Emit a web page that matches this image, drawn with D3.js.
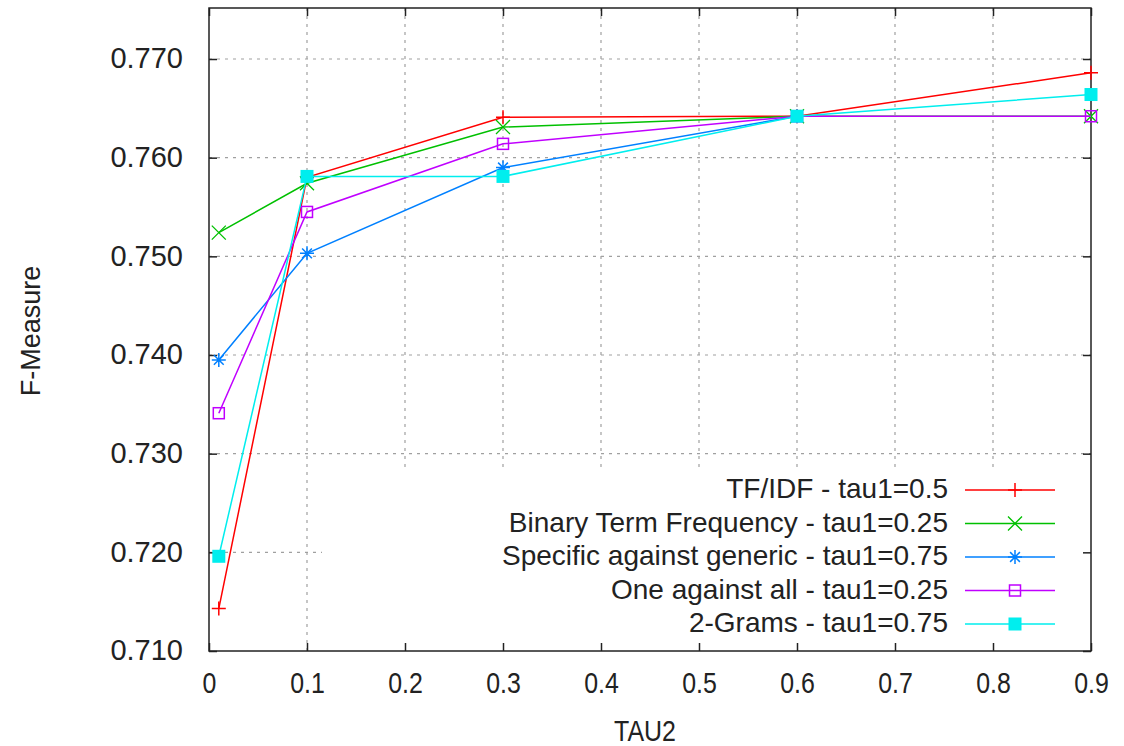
<!DOCTYPE html>
<html>
<head>
<meta charset="utf-8">
<script src="https://cdn.jsdelivr.net/npm/d3@7"></script>
<style>
  body { margin: 0; background: #fff; }
  text { font-family: "Liberation Sans", Arial, sans-serif; fill: #222; }
</style>
</head>
<body>
<script>
'use strict';

// x values (TAU2)
const tau2 = [0.01, 0.1, 0.3, 0.6, 0.9];

// F-Measure for each method
const tfidf    = [0.7143, 0.7580, 0.7641, 0.7642, 0.7686];
const binaryTf = [0.7524, 0.7574, 0.7631, 0.7642, 0.7642];
const specific = [0.7395, 0.7503, 0.7590, 0.7642];
const oneAll   = [0.7341, 0.7545, 0.7614, 0.7642, 0.7642];
const twoGrams = [0.7196, 0.7581, 0.7581, 0.7642, 0.7664];

const seriesNames = [
  "TF/IDF - tau1=0.5",
  "Binary Term Frequency - tau1=0.25",
  "Specific against generic - tau1=0.75",
  "One against all - tau1=0.25",
  "2-Grams - tau1=0.75"
];
const seriesValues = [tfidf, binaryTf, specific, oneAll, twoGrams];
const seriesColors = ["#ff0000", "#00c000", "#0080ff", "#c000ff", "#00eeee"];
const seriesMarkers = ["plus", "cross", "star", "square", "filled"];

const xTicks = [0, 0.1, 0.2, 0.3, 0.4, 0.5, 0.6, 0.7, 0.8, 0.9];
const yTicks = [0.710, 0.720, 0.730, 0.740, 0.750, 0.760, 0.770];

(function() {
  const width = 1124, height = 746;
  const pLeft = 209, pRight = 1091, pTop = 8, pBottom = 651;

  let svg = d3.select('body').append('svg')
    .attr('width', width)
    .attr('height', height);

  let xScale = d3.scaleLinear().domain([0, 0.9]).range([pLeft, pRight]);
  let yScale = d3.scaleLinear().domain([0.710, 0.770]).range([pBottom, 59]);

  // grid lines
  let grid = svg.append('g')
    .attr('stroke', '#a0a0a0')
    .attr('stroke-width', 1.2)
    .attr('stroke-dasharray', '3,5');
  grid.selectAll('.gx')
    .data(xTicks.slice(1, -1))
    .enter().append('line')
      .attr('x1', (d) => xScale(d)).attr('x2', (d) => xScale(d))
      .attr('y1', pTop).attr('y2', pBottom);
  grid.selectAll('.gy')
    .data(yTicks.slice(1))
    .enter().append('line')
      .attr('x1', pLeft).attr('x2', pRight)
      .attr('y1', (d) => yScale(d)).attr('y2', (d) => yScale(d));

  // key box blanks out the grid behind it
  svg.append('rect')
    .attr('x', 322).attr('y', 472)
    .attr('width', pRight - 322).attr('height', pBottom - 472)
    .attr('fill', '#fff');

  // axes: ticks pointing inward, mirrored on all sides
  let xAxis = d3.axisBottom(xScale).tickValues(xTicks).tickSize(-8)
    .tickFormat((d) => d === 0 ? "0" : d3.format(".1f")(d));
  let gx = svg.append('g').attr('transform', `translate(0,${pBottom})`).call(xAxis);
  gx.select('.domain').remove();
  gx.selectAll('text')
    .attr('y', 42)
    .attr('dy', 0)
    .style('font-size', '29px')
    .attr('transform', 'scale(0.86,1)');

  let xAxisTop = d3.axisTop(xScale).tickValues(xTicks).tickSize(-8).tickFormat('');
  let gxt = svg.append('g').attr('transform', `translate(0,${pTop})`).call(xAxisTop);
  gxt.select('.domain').remove();

  let yAxis = d3.axisLeft(yScale).tickValues(yTicks).tickSize(-8).tickPadding(26)
    .tickFormat(d3.format(".3f"));
  let gy = svg.append('g').attr('transform', `translate(${pLeft},0)`).call(yAxis);
  gy.select('.domain').remove();
  gy.selectAll('text').style('font-size', '29px').attr('dy', '0.3em');

  let yAxisRight = d3.axisRight(yScale).tickValues(yTicks).tickSize(-8).tickFormat('');
  let gyr = svg.append('g').attr('transform', `translate(${pRight},0)`).call(yAxisRight);
  gyr.select('.domain').remove();

  svg.selectAll('.tick line').attr('stroke', '#222').attr('stroke-width', 1.5);
  svg.selectAll('.tick text').attr('fill', '#222');

  // frame
  svg.append('rect')
    .attr('x', pLeft).attr('y', pTop)
    .attr('width', pRight - pLeft).attr('height', pBottom - pTop)
    .attr('fill', 'none')
    .attr('stroke', '#222')
    .attr('stroke-width', 1.5);

  // marker drawing
  function drawMarker(g, type, x, y, color) {
    let s = 7;
    if (type === 'plus') {
      g.append('path').attr('d', `M${x - s},${y}H${x + s}M${x},${y - s}V${y + s}`)
        .attr('stroke', color).attr('stroke-width', 1.5).attr('fill', 'none');
    } else if (type === 'cross') {
      g.append('path').attr('d', `M${x - s},${y - s}L${x + s},${y + s}M${x - s},${y + s}L${x + s},${y - s}`)
        .attr('stroke', color).attr('stroke-width', 1.3).attr('fill', 'none');
    } else if (type === 'star') {
      let k = s * 0.7;
      g.append('path').attr('d', `M${x - s},${y}H${x + s}M${x},${y - s}V${y + s}` +
          `M${x - k},${y - k}L${x + k},${y + k}M${x - k},${y + k}L${x + k},${y - k}`)
        .attr('stroke', color).attr('stroke-width', 1.5).attr('fill', 'none');
    } else if (type === 'square') {
      g.append('rect').attr('x', x - 5.5).attr('y', y - 5.5).attr('width', 11).attr('height', 11)
        .attr('stroke', color).attr('stroke-width', 1.5).attr('fill', 'none');
    } else {
      g.append('rect').attr('x', x - 6.5).attr('y', y - 6.5).attr('width', 13).attr('height', 13)
        .attr('fill', color);
    }
  }

  // plot series
  let line = d3.line()
    .x((d) => xScale(d[0]))
    .y((d) => yScale(d[1]));

  seriesValues.forEach((vals, i) => {
    let pts = vals.map((v, j) => [tau2[j], v]);
    let g = svg.append('g');
    g.append('path')
      .datum(pts)
      .attr('d', line)
      .attr('fill', 'none')
      .attr('stroke', seriesColors[i])
      .attr('stroke-width', 1.5);
    pts.forEach((p) => drawMarker(g, seriesMarkers[i], xScale(p[0]), yScale(p[1]), seriesColors[i]));
  });

  // legend
  let legend = svg.append('g');
  seriesNames.forEach((name, i) => {
    let y = 490 + i * 33.5;
    legend.append('text')
      .attr('x', 948).attr('y', y + 8)
      .attr('text-anchor', 'end')
      .style('font-size', '28px')
      .text(name);
    legend.append('line')
      .attr('x1', 965).attr('x2', 1055)
      .attr('y1', y).attr('y2', y)
      .attr('stroke', seriesColors[i])
      .attr('stroke-width', 1.5);
    drawMarker(legend, seriesMarkers[i], 1015, y, seriesColors[i]);
  });

  // axis titles
  svg.append('text')
    .attr('transform', 'translate(40,331)rotate(-90)')
    .attr('text-anchor', 'middle')
    .style('font-size', '27px')
    .text('F-Measure');

  svg.append('text')
    .attr('text-anchor', 'middle')
    .attr('transform', 'translate(645,741)scale(0.86,1)')
    .style('font-size', '29px')
    .text('TAU2');
})();
</script>
</body>
</html>
